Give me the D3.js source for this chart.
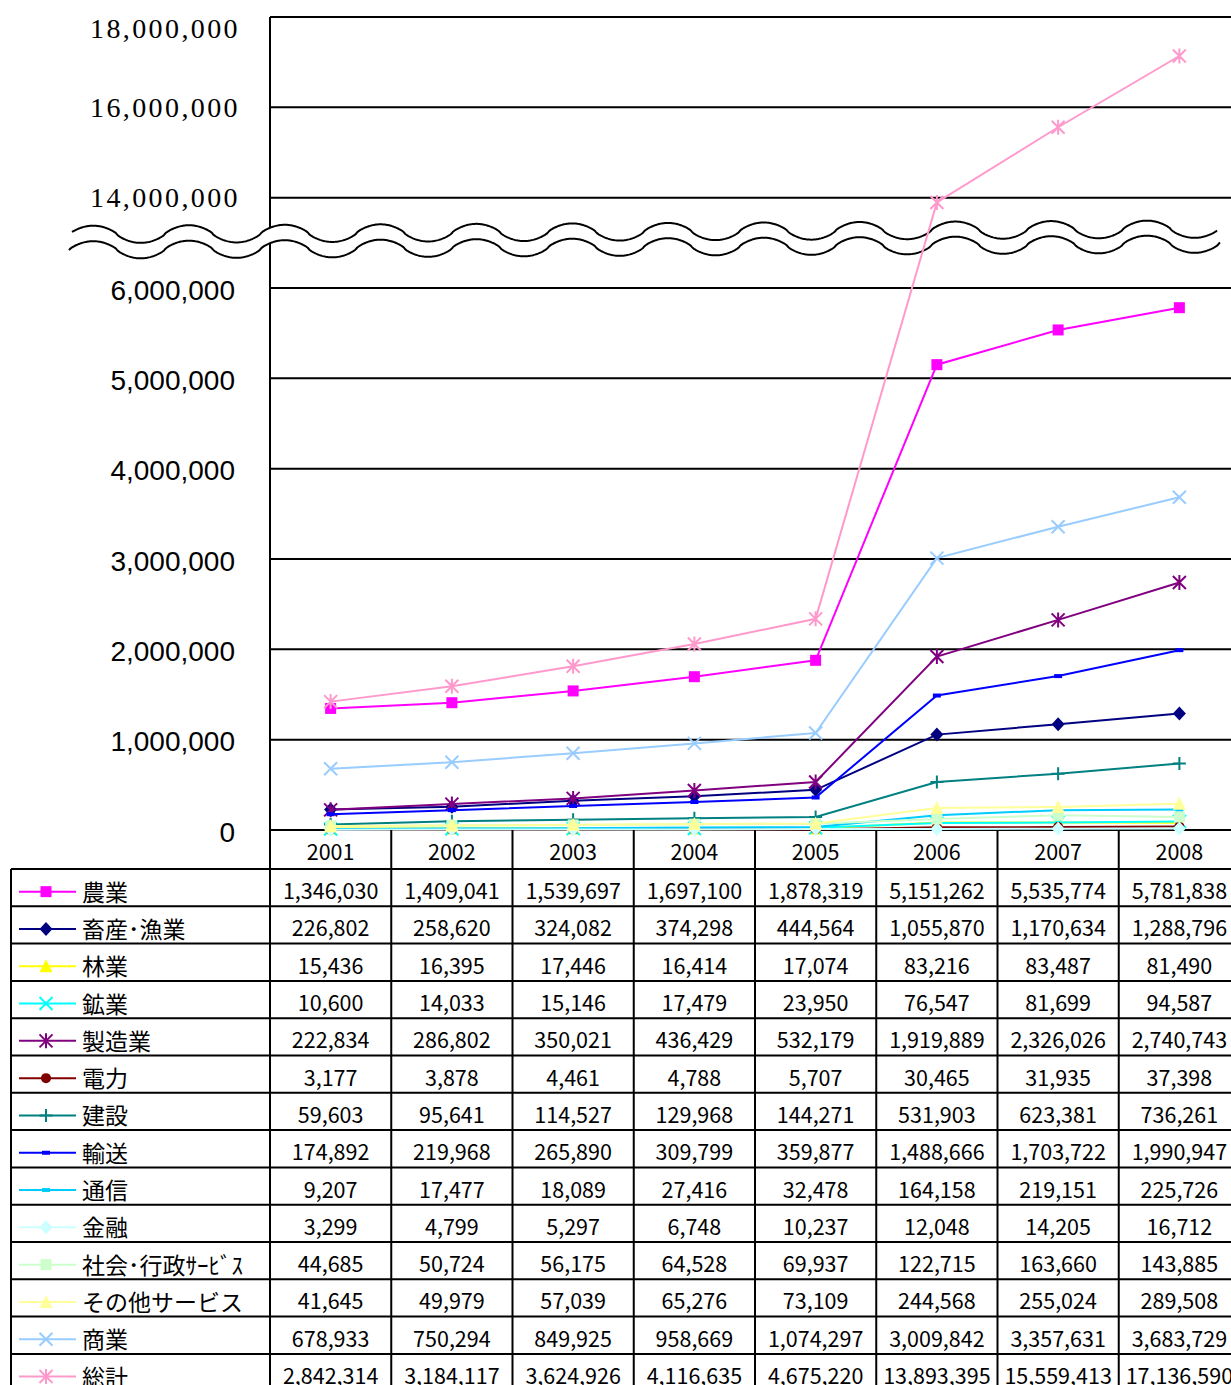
<!DOCTYPE html>
<html>
<head>
<meta charset="utf-8">
<script src="https://cdn.jsdelivr.net/npm/d3@7"></script>
<style>
  html, body { margin: 0; padding: 0; background: #fff; }
  svg { display: block; }
</style>
</head>
<body>
<svg id="chart" width="1231" height="1385"></svg>
<script>
// ---- data ----
const years = ["2001", "2002", "2003", "2004", "2005", "2006", "2007", "2008"];
const seriesNames = ["農業", "畜産･漁業", "林業", "鉱業", "製造業", "電力", "建設", "輸送", "通信", "金融", "社会･行政ｻｰﾋﾞｽ", "その他サービス", "商業", "総計"];

const agriculture   = [1346030, 1409041, 1539697, 1697100, 1878319, 5151262, 5535774, 5781838];
const livestock     = [226802, 258620, 324082, 374298, 444564, 1055870, 1170634, 1288796];
const forestry      = [15436, 16395, 17446, 16414, 17074, 83216, 83487, 81490];
const mining        = [10600, 14033, 15146, 17479, 23950, 76547, 81699, 94587];
const manufacturing = [222834, 286802, 350021, 436429, 532179, 1919889, 2326026, 2740743];
const electricity   = [3177, 3878, 4461, 4788, 5707, 30465, 31935, 37398];
const construction  = [59603, 95641, 114527, 129968, 144271, 531903, 623381, 736261];
const transport     = [174892, 219968, 265890, 309799, 359877, 1488666, 1703722, 1990947];
const telecom       = [9207, 17477, 18089, 27416, 32478, 164158, 219151, 225726];
const finance       = [3299, 4799, 5297, 6748, 10237, 12048, 14205, 16712];
const socialAdmin   = [44685, 50724, 56175, 64528, 69937, 122715, 163660, 143885];
const otherServices = [41645, 49979, 57039, 65276, 73109, 244568, 255024, 289508];
const commerce      = [678933, 750294, 849925, 958669, 1074297, 3009842, 3357631, 3683729];
const grandTotal    = [2842314, 3184117, 3624926, 4116635, 4675220, 13893395, 15559413, 17136590];

const lowerTicks = [0, 1000000, 2000000, 3000000, 4000000, 5000000, 6000000];
const upperTicks = [14000000, 16000000, 18000000];

// ---- styles ----
const seriesValues = [agriculture, livestock, forestry, mining, manufacturing, electricity,
  construction, transport, telecom, finance, socialAdmin, otherServices, commerce, grandTotal];
const seriesColors = ["#FF00FF", "#000080", "#FFFF00", "#00FFFF", "#800080", "#800000",
  "#008080", "#0000FF", "#00CCFF", "#CCFFFF", "#CCFFCC", "#FFFF99", "#99CCFF", "#FF99CC"];
const seriesMarkers = ["square", "diamond", "triangle", "x", "star", "circle",
  "plus", "dash", "dash", "diamond", "square", "triangle", "x", "star"];

const series = seriesNames.map((name, i) => ({
  name, values: seriesValues[i], color: seriesColors[i], marker: seriesMarkers[i],
  onTotalScale: i === seriesNames.length - 1
}));

// ---- layout ----
const svg = d3.select("#chart");
const plotLeft = 270, colW = 121.25, plotRight = plotLeft + colW * years.length;
const plotTop = 17, plotBottom = 830;

const x = d3.scaleBand().domain(years).range([plotLeft, plotRight]);
const cx = d => x(d) + x.bandwidth() / 2;

// Sector values on the main axis; the grand total on a half-rate axis sharing the same pixels
const y = d3.scaleLinear().domain([0, 9000000]).range([plotBottom, plotTop]);
const yTotal = d3.scaleLinear().domain([0, 18000000]).range([plotBottom, plotTop]);

const fmt = d3.format(",");

// ---- gridlines ----
const gridY = lowerTicks.slice(1).map(v => y(v)).concat(upperTicks.map(v => yTotal(v)));
svg.append("g").selectAll("line").data(gridY).join("line")
  .attr("x1", plotLeft).attr("x2", plotRight)
  .attr("y1", d => d).attr("y2", d => d)
  .attr("stroke", "#000").attr("stroke-width", 2);

// left axis line and the baseline
svg.append("line").attr("x1", plotLeft).attr("x2", plotLeft)
  .attr("y1", plotTop).attr("y2", 1385).attr("stroke", "#000").attr("stroke-width", 2);
svg.append("line").attr("x1", plotLeft).attr("x2", plotRight)
  .attr("y1", plotBottom).attr("y2", plotBottom).attr("stroke", "#000").attr("stroke-width", 2);

// ---- tick labels ----
svg.append("g").selectAll("text").data(lowerTicks).join("text")
  .attr("x", 235).attr("y", d => y(d) + 2)
  .attr("text-anchor", "end").attr("dominant-baseline", "central")
  .attr("font-family", "'Liberation Sans', Arial, sans-serif").attr("font-size", 28)
  .text(d => fmt(d));

svg.append("g").selectAll("text").data(upperTicks).join("text")
  .attr("x", 240).attr("y", d => Math.max(yTotal(d), 28))
  .attr("text-anchor", "end").attr("dominant-baseline", "central")
  .attr("font-family", "'Liberation Serif', 'Times New Roman', serif").attr("font-size", 28)
  .attr("letter-spacing", 2.4)
  .text(d => fmt(d));

// ---- axis break ----
function wave(x0, x1, yc0, yc1) {
  const pts = [];
  for (let px = x0; px <= x1; px += 1) {
    const t = (px - x0) / (x1 - x0);
    const c = yc0 + (yc1 - yc0) * t;
    const cs = Math.cos(2 * Math.PI * (px - 93) / 95.8);
    pts.push([px, c - 8.7 * Math.sign(cs) * Math.pow(Math.abs(cs), 0.75)]);
  }
  return pts;
}
const topWave = wave(72, 1217, 234.5, 229);
const botWave = wave(69, 1220, 250, 244);
const breakG = svg.append("g");
breakG.append("path")
  .attr("d", d3.line()(topWave.concat(botWave.slice().reverse())) + "Z")
  .attr("fill", "#fff").attr("stroke", "none");
breakG.selectAll("path.w").data([topWave, botWave]).join("path").attr("class", "w")
  .attr("d", d3.line()).attr("fill", "none").attr("stroke", "#000").attr("stroke-width", 2);

// ---- markers ----
function drawMarker(g, type, color, px, py) {
  const s = 6.5;
  if (type === "square") {
    g.append("rect").attr("x", px - 5.5).attr("y", py - 5.5).attr("width", 11).attr("height", 11).attr("fill", color);
  } else if (type === "diamond") {
    g.append("path").attr("d", `M${px},${py - 7}L${px + 6.5},${py}L${px},${py + 7}L${px - 6.5},${py}Z`).attr("fill", color);
  } else if (type === "triangle") {
    g.append("path").attr("d", `M${px},${py - 7}L${px + 6.5},${py + 6}L${px - 6.5},${py + 6}Z`).attr("fill", color);
  } else if (type === "circle") {
    g.append("circle").attr("cx", px).attr("cy", py).attr("r", 5).attr("fill", color);
  } else if (type === "dash") {
    g.append("rect").attr("x", px - 4).attr("y", py - 2).attr("width", 8).attr("height", 4).attr("fill", color);
  } else {
    let d = "";
    if (type === "x" || type === "star") d += `M${px - s},${py - s}L${px + s},${py + s}M${px - s},${py + s}L${px + s},${py - s}`;
    if (type === "star") d += `M${px},${py - s - 1}L${px},${py + s + 1}`;
    if (type === "plus") d += `M${px},${py - s}L${px},${py + s}M${px - s},${py}L${px + s},${py}`;
    g.append("path").attr("d", d).attr("stroke", color).attr("stroke-width", 2).attr("fill", "none");
  }
}

// ---- series lines ----
const linesG = svg.append("g");
series.forEach(s => {
  const sc = s.onTotalScale ? yTotal : y;
  const g = linesG.append("g");
  g.append("path")
    .attr("d", d3.line().x((d, i) => cx(years[i])).y(d => sc(d))(s.values))
    .attr("fill", "none").attr("stroke", s.color).attr("stroke-width", 2);
  s.values.forEach((v, i) => drawMarker(g, s.marker, s.color, cx(years[i]), sc(v)));
});

// ---- data table ----
const tableTop = 869, rowH = 37.3, tableLeft = 11;
const tableG = svg.append("g");

// year header
tableG.selectAll("text.yr").data(years).join("text").attr("class", "yr")
  .attr("x", d => cx(d)).attr("y", (plotBottom + tableTop) / 2 + 1)
  .attr("text-anchor", "middle").attr("dominant-baseline", "central")
  .attr("font-family", "'Noto Sans CJK JP', sans-serif").attr("font-size", 21.5)
  .text(d => d);

// grid of the table
const rowLines = d3.range(series.length + 1).map(i => tableTop + i * rowH);
tableG.selectAll("line.h").data(rowLines).join("line").attr("class", "h")
  .attr("x1", tableLeft).attr("x2", plotRight).attr("y1", d => d).attr("y2", d => d)
  .attr("stroke", "#000").attr("stroke-width", 2);
tableG.selectAll("line.v").data(years.slice(1)).join("line").attr("class", "v")
  .attr("x1", d => x(d)).attr("x2", d => x(d)).attr("y1", plotBottom).attr("y2", 1385)
  .attr("stroke", "#000").attr("stroke-width", 2);
tableG.append("line").attr("x1", tableLeft).attr("x2", tableLeft)
  .attr("y1", tableTop).attr("y2", 1385).attr("stroke", "#000").attr("stroke-width", 2);

series.forEach((s, r) => {
  const rc = tableTop + rowH * (r + 0.5);
  const g = tableG.append("g");
  g.append("line").attr("x1", 19).attr("x2", 76).attr("y1", rc + 4).attr("y2", rc + 4)
    .attr("stroke", s.color).attr("stroke-width", 2);
  drawMarker(g, s.marker, s.color, 46, rc + 4);
  g.append("text").attr("x", 82).attr("y", rc + 3)
    .attr("dominant-baseline", "central")
    .attr("font-family", "'Noto Sans CJK JP', sans-serif").attr("font-size", 23)
    .text(s.name);
  g.selectAll("text.v").data(s.values).join("text").attr("class", "v")
    .attr("x", (d, i) => cx(years[i])).attr("y", rc + 2)
    .attr("text-anchor", "middle").attr("dominant-baseline", "central")
    .attr("font-family", "'Noto Sans CJK JP', sans-serif").attr("font-size", 21.5)
    .text(d => fmt(d));
});
</script>
</body>
</html>
